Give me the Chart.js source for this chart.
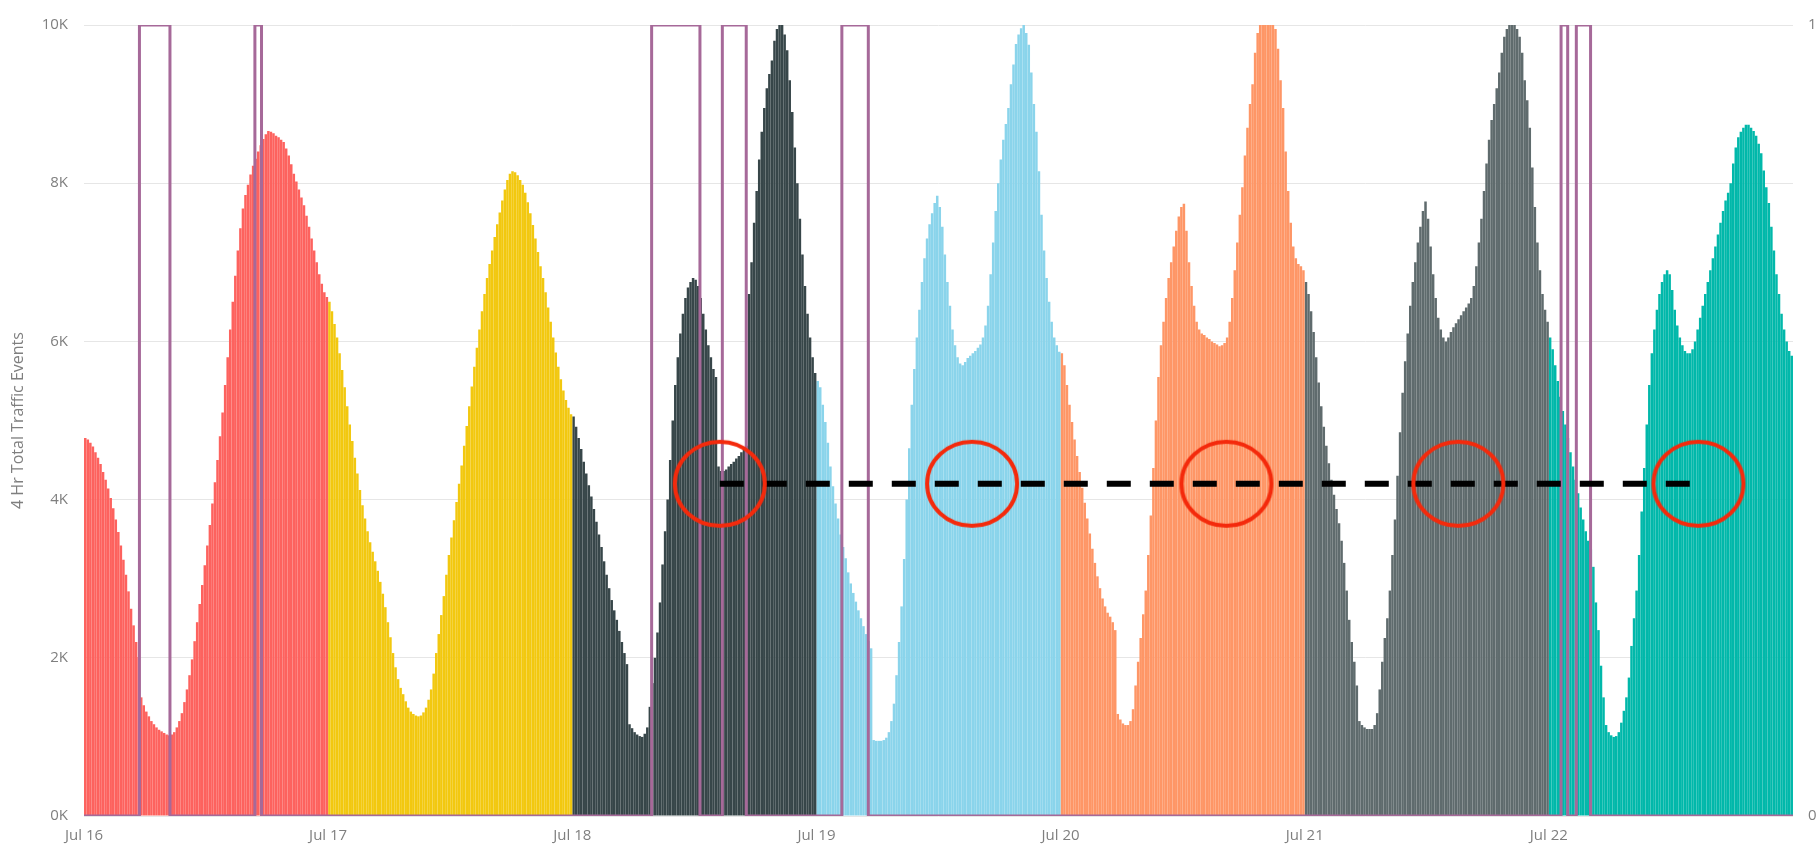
<!DOCTYPE html>
<html>
<head>
<meta charset="utf-8">
<script src="https://cdn.jsdelivr.net/npm/chart.js@4.4.1/dist/chart.umd.min.js"></script>
<style>
  html, body { margin: 0; padding: 0; background: #ffffff; }
  #wrap { width: 1819px; height: 849px; }
</style>
</head>
<body>
<div id="wrap"><canvas id="chart" width="1819" height="849"></canvas></div>
<script>
// ---------- DATA ----------
const dayLabels = ['Jul 16', 'Jul 17', 'Jul 18', 'Jul 19', 'Jul 20', 'Jul 21', 'Jul 22'];
const dayStartHours = [0, 24, 48, 72, 96, 120, 144];
const binHours = 0.25; // 15-minute bins

// 4 Hr Total Traffic Events, one value per 15 minutes
const jul16 = [
  4780,4760,4720,4670,4600,4530,4450,4350,
  4250,4140,4020,3890,3750,3590,3420,3240,
  3050,2840,2620,2410,2200,2010,1500,1400,
  1320,1260,1200,1160,1120,1090,1070,1050,
  1030,1020,1030,1060,1120,1200,1300,1440,
  1600,1780,1980,2210,2450,2680,2920,3170,
  3420,3680,3950,4220,4500,4800,5100,5450,
  5800,6150,6500,6830,7150,7430,7680,7850,
  7980,8110,8220,8310,8400,8480,8560,8620,
  8660,8650,8630,8600,8580,8550,8520,8440,
  8350,8240,8120,8020,7920,7820,7720,7590,
  7450,7300,7150,7000,6850,6730,6620,6560
];
const jul17 = [
  6500,6380,6220,6050,5850,5640,5420,5180,
  4950,4740,4530,4330,4120,3930,3760,3600,
  3460,3340,3220,3100,2960,2810,2640,2450,
  2260,2060,1880,1730,1620,1540,1450,1370,
  1320,1290,1270,1260,1270,1310,1370,1470,
  1600,1800,2060,2300,2540,2780,3050,3300,
  3520,3740,3970,4200,4430,4680,4930,5180,
  5430,5680,5920,6150,6380,6600,6800,6980,
  7150,7320,7480,7630,7780,7920,8040,8120,
  8150,8140,8100,8040,7980,7880,7760,7620,
  7470,7300,7130,6950,6800,6620,6430,6250,
  6050,5860,5680,5520,5380,5260,5160,5080
];
const jul18 = [
  5050,4920,4780,4640,4480,4330,4180,4040,
  3880,3720,3560,3400,3220,3050,2880,2730,
  2600,2480,2340,2200,2060,1920,1160,1110,
  1060,1030,1010,1000,1040,1120,1380,1680,
  2000,2320,2700,3180,3600,4000,4500,5000,
  5450,5800,6100,6350,6550,6680,6750,6800,
  6780,6700,6550,6350,6150,5950,5800,5650,
  5550,4420,4360,4360,4380,4420,4450,4480,
  4520,4550,4600,4640,4680,6600,7000,7500,
  7900,8300,8650,8950,9200,9380,9550,9800,
  9950,10000,10000,9880,9680,9300,8900,8450,
  8000,7550,7100,6700,6350,6050,5800,5600
];
const jul19 = [
  5500,5420,5200,4980,4720,4420,4170,3950,
  3760,3560,3400,3260,3080,2940,2820,2710,
  2600,2500,2400,2300,2210,2120,960,950,
  950,950,960,990,1060,1200,1420,1780,
  2200,2650,3250,4000,4650,5200,5650,6050,
  6400,6750,7050,7300,7480,7620,7750,7840,
  7700,7450,7100,6750,6450,6150,5950,5800,
  5720,5700,5740,5790,5820,5850,5880,5920,
  5960,6050,6200,6450,6850,7250,7650,8000,
  8300,8550,8750,8950,9250,9500,9760,9880,
  9960,10000,9900,9750,9400,9000,8650,8150,
  7600,7150,6800,6500,6250,6050,5950,5870
];
const jul20 = [
  5850,5700,5450,5200,4980,4760,4550,4350,
  4150,3960,3760,3570,3380,3200,3030,2880,
  2750,2650,2570,2520,2450,2350,1290,1220,
  1170,1150,1150,1200,1350,1650,1950,2250,
  2550,2850,3300,3800,4400,5000,5550,5950,
  6250,6550,6800,7000,7200,7400,7580,7700,
  7740,7400,7000,6700,6450,6250,6150,6100,
  6080,6050,6030,6000,5980,5960,5940,5950,
  5980,6050,6250,6550,6900,7250,7600,7950,
  8350,8700,9000,9250,9650,9900,10000,10000,
  10000,10000,10000,10000,9950,9700,9300,8950,
  8400,7900,7500,7200,7050,6980,6950,6900
];
const jul21 = [
  6750,6600,6380,6120,5800,5480,5180,4920,
  4680,4460,4250,4060,3880,3700,3480,3200,
  2850,2480,2200,1950,1650,1200,1150,1120,
  1100,1100,1100,1150,1300,1600,1950,2250,
  2500,2850,3300,3750,4300,4850,5350,5750,
  6100,6450,6750,7000,7250,7450,7650,7770,
  7550,7200,6850,6550,6300,6150,6050,6000,
  6050,6120,6180,6230,6280,6330,6380,6430,
  6480,6550,6700,6950,7250,7550,7900,8250,
  8550,8800,9000,9200,9400,9650,9850,9950,
  10000,10000,10000,9950,9850,9650,9300,9050,
  8700,8200,7700,7250,6900,6600,6400,6250
];
const jul22 = [
  6050,5900,5700,5500,5300,5120,4950,4780,
  4600,4420,4250,4080,3900,3750,3600,3480,
  3370,3150,2700,2350,1900,1500,1150,1060,
  1020,1000,1010,1060,1180,1330,1500,1750,
  2150,2500,2850,3300,3850,4400,4950,5450,
  5850,6150,6400,6600,6750,6850,6900,6850,
  6650,6400,6200,6050,5950,5880,5850,5850,
  5900,6000,6150,6300,6450,6600,6750,6900,
  7050,7200,7350,7500,7650,7780,7880,8000,
  8250,8450,8580,8650,8700,8740,8740,8700,
  8660,8600,8500,8380,8160,7950,7750,7450,
  7150,6850,6600,6350,6150,6000,5880,5820
];
const dailyEvents = [jul16, jul17, jul18, jul19, jul20, jul21, jul22];

// secondary (0/1) indicator, step changes: hour since Jul 16 00:00 -> state
const alertTimes  = [0, 5.45, 8.45, 16.8, 17.45, 55.8, 60.55, 62.75, 65.1, 74.5, 77.1, 145.2, 145.85, 146.7, 148.1, 168];
const alertStates = [0, 1,    0,    1,    0,     1,    0,     1,     0,    1,    0,    1,     0,      1,     0,     0];

// annotation: dashed reference level and highlighted times
const referenceLevel = 4200;
const referenceFrom = 62.5;
const referenceTo = 159.2;
const circleHours = [62.5, 87.3, 112.3, 135.1, 158.7];

// ---------- STYLE ----------
const dayColors = ['#FD625E', '#F2C80F', '#374649', '#8AD4EB', '#FE9666', '#5F6B6D', '#01B8AA'];
const axisGrey = '#7f7f7f';
const fontFamily = '"Segoe UI", "Open Sans", "Noto Sans", sans-serif';

// ellipse marker for the highlight circles
function makeEllipse(rx, ry, lw, color) {
  const c = document.createElement('canvas');
  c.width = Math.ceil(2 * rx + lw + 2);
  c.height = Math.ceil(2 * ry + lw + 2);
  const g = c.getContext('2d');
  g.strokeStyle = color;
  g.lineWidth = lw;
  g.beginPath();
  g.ellipse(c.width / 2, c.height / 2, rx, ry, 0, 0, Math.PI * 2);
  g.stroke();
  return c;
}
const ellipseMarker = makeEllipse(45, 42, 4, '#F42A0C');

const barSets = dailyEvents.map((vals, d) => ({
  type: 'bar',
  label: dayLabels[d],
  data: vals.map((v, i) => ({ x: dayStartHours[d] + (i + 0.5) * binHours, y: v })),
  backgroundColor: dayColors[d],
  borderWidth: 0,
  barPercentage: 0.985,
  categoryPercentage: 1,
  grouped: false,
  yAxisID: 'y',
  order: 4
}));

const datasets = [
  {
    type: 'line',
    label: 'highlights',
    data: circleHours.map(h => ({ x: h, y: referenceLevel })),
    showLine: false,
    pointStyle: ellipseMarker,
    pointRadius: 45,
    yAxisID: 'y',
    clip: false,
    order: 1
  },
  {
    type: 'line',
    label: 'reference',
    data: [{ x: referenceFrom, y: referenceLevel }, { x: referenceTo, y: referenceLevel }],
    borderColor: '#000000',
    borderWidth: 6,
    borderDash: [24, 19],
    borderCapStyle: 'butt',
    pointRadius: 0,
    yAxisID: 'y',
    order: 2
  },
  {
    type: 'line',
    label: 'indicator',
    data: alertTimes.map((t, i) => ({ x: t, y: alertStates[i] })),
    stepped: true,
    borderColor: '#A66999',
    borderWidth: 3,
    pointRadius: 0,
    yAxisID: 'y1',
    order: 3
  },
  ...barSets
];

new Chart(document.getElementById('chart'), {
  type: 'bar',
  data: { datasets },
  options: {
    responsive: false,
    animation: false,
    devicePixelRatio: 1,
    events: [],
    layout: { autoPadding: false, padding: { top: 16, left: 0, right: 0, bottom: 0 } },
    plugins: { legend: { display: false }, tooltip: { enabled: false } },
    scales: {
      x: {
        type: 'linear',
        min: 0,
        max: 168,
        offset: false,
        grid: { display: false, offset: false, drawTicks: false },
        border: { display: false },
        afterBuildTicks: (scale) => { scale.ticks = dayStartHours.map(v => ({ value: v })); },
        ticks: {
          autoSkip: false,
          maxRotation: 0,
          padding: 11,
          color: axisGrey,
          font: { family: fontFamily, size: 15 },
          callback: (v, i) => dayLabels[i]
        },
        afterFit: (s) => { s.height = 33; }
      },
      y: {
        position: 'left',
        min: 0,
        max: 10000,
        grid: { color: '#e6e6e6', lineWidth: 1, drawTicks: false },
        border: { display: false },
        ticks: {
          stepSize: 2000,
          padding: 16,
          color: axisGrey,
          font: { family: fontFamily, size: 15 },
          callback: (v) => (v / 1000) + 'K'
        },
        title: {
          display: true,
          text: '4 Hr Total Traffic Events',
          color: axisGrey,
          font: { family: fontFamily, size: 16 },
          padding: { top: 9, bottom: 0 }
        },
        afterFit: (s) => { s.width = 84; }
      },
      y1: {
        position: 'right',
        min: 0,
        max: 1,
        grid: { display: false, drawTicks: false },
        border: { display: false },
        ticks: {
          stepSize: 1,
          padding: 15,
          color: axisGrey,
          font: { family: fontFamily, size: 15 }
        },
        afterFit: (s) => { s.width = 26; }
      }
    }
  }
});
</script>
</body>
</html>
